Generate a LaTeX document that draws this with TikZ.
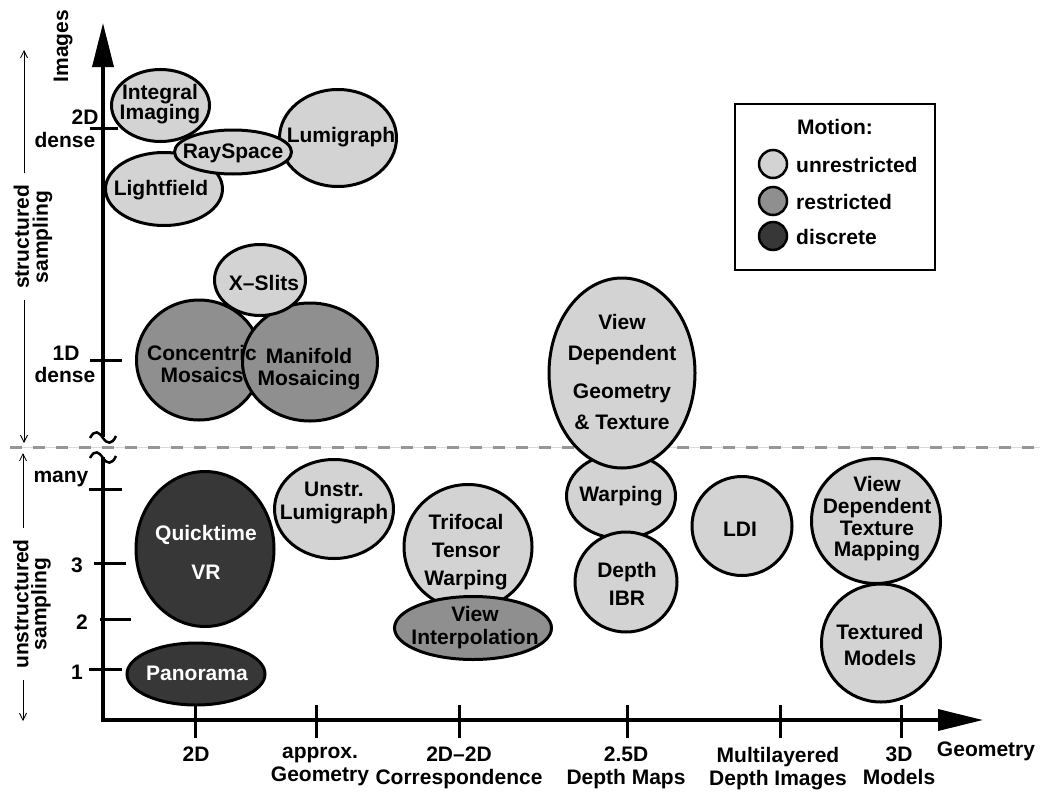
\documentclass[tikz,border=0pt]{standalone}
\usepackage{fontspec}
\setmainfont{Liberation Sans}
\usetikzlibrary{shapes.geometric,arrows.meta}
\definecolor{lightfill}{RGB}{211,211,211}
\definecolor{midfill}{RGB}{143,143,143}
\definecolor{darkfill}{RGB}{55,55,55}
\definecolor{dashgray}{RGB}{150,150,150}
\newcommand{\lblfont}[1]{\fontsize{21}{#1}\selectfont\bfseries}
\begin{document}
\begin{tikzpicture}[x=1pt,y=-1pt,
  blob/.style={ellipse, draw=black, line width=3pt, inner sep=0pt, fill=#1},
  txt/.style={inner sep=0pt, align=center, font=\lblfont{#1}},
  txt/.default=24,
  axisline/.style={line width=3.5pt},
  tick/.style={line width=3pt},
  breakmark/.style={line width=2.5pt},
  sidearrow/.style={line width=0.8pt, -{Straight Barb[length=7pt,width=7pt]}},
  swatch/.style={circle, draw=black, line width=2.5pt, minimum size=28pt, inner sep=0pt, fill=#1}
]
\useasboundingbox (0,0) rectangle (1040,792);

% separation between structured and unstructured sampling
\coordinate (sepL) at (10,447);
\coordinate (sepR) at (1040,447);
\draw[dashgray!35, line width=1pt] (sepL) -- (sepR);
\draw[dashgray, line width=3pt, dash pattern=on 12pt off 11pt] (sepL) -- (sepR);

% axes
\coordinate (ybreakA) at (103,437);
\coordinate (ytop) at (103,23);
\coordinate (ybreakB) at (103,457);
\coordinate (origin) at (103,720);
\coordinate (xend) at (983,720);
\draw[axisline, -{Triangle[length=44pt,width=21pt]}] (ybreakA) -- (ytop);
\draw[axisline, -{Triangle[length=45pt,width=21pt]}] (ybreakB) -- (origin) -- (xend);

% axis break marks
\draw[breakmark] (90,438) .. controls (95,429) and (99,432) .. (103,438) .. controls (107,444) and (112,445) .. (116,436);
\draw[breakmark] (90,458) .. controls (95,449) and (99,452) .. (103,458) .. controls (107,464) and (112,465) .. (116,456);

% ticks on the image axis
\draw[tick] (90,128) -- (118,128);
\draw[tick] (90,360) -- (122,360);
\draw[tick] (89,489) -- (122,489);
\draw[tick] (94,563) -- (126,563);
\draw[tick] (100,619) -- (131,619);
\draw[tick] (89,669) -- (122,669);

% ticks on the geometry axis
\foreach \tx in {195,316,459,627,780,901}
  \draw[tick] (\tx,705) -- (\tx,738);

% image axis labels
\node[txt, rotate=90] (imglabel) at (63,46) {Images};
\node[txt] (l2d) at (85,117) {2D};
\node[txt] (l2dd) at (65,140) {dense};
\node[txt] (l1d) at (66,353) {1D};
\node[txt] (l1dd) at (65,375) {dense};
\node[txt] (lmany) at (61,479) {many};
\node[txt] (l3) at (77,565) {3};
\node[txt] (l2) at (82,622) {2};
\node[txt] (l1) at (77,672) {1};

% sampling ranges
\node[txt=19, rotate=90] (structured) at (33,237) {structured\\sampling};
\node[txt=18, rotate=90] (unstructured) at (32,604) {unstructured\\sampling};
\coordinate (sA) at (24,173); \coordinate (sAt) at (24,50);
\coordinate (sB) at (24,300); \coordinate (sBt) at (24,443);
\coordinate (uA) at (23,528); \coordinate (uAt) at (23,453);
\coordinate (uB) at (23,680); \coordinate (uBt) at (23,721);
\draw[sidearrow] (sA) -- (sAt);
\draw[sidearrow] (sB) -- (sBt);
\draw[sidearrow] (uA) -- (uAt);
\draw[sidearrow] (uB) -- (uBt);

% geometry axis labels
\node[txt=23, anchor=north] (g2d) at (196,747) {2D};
\node[txt=23, anchor=north] (gapprox) at (320,747) {approx.\\Geometry};
\node[txt=23, anchor=north] (gcorr) at (459,747) {2D--2D\\Correspondence};
\node[txt=23, anchor=north] (gdepth) at (626,747) {2.5D\\Depth Maps};
\node[txt=23, anchor=north] (gldi) at (778,747) {Multilayered\\Depth Images};
\node[txt=23, anchor=north] (g3d) at (899,747) {3D\\Models};
\node[txt, anchor=north] (geomlabel) at (986,742) {Geometry};

% rendering techniques
\node[blob=lightfill, minimum width=98pt, minimum height=72pt] (integral) at (160.5,105.5) {};
\node[blob=lightfill, minimum width=117pt, minimum height=73pt] (lightfield) at (164,189) {};
\node[blob=lightfill, minimum width=117pt, minimum height=97pt] (lumigraph) at (338,138) {};
\node[blob=lightfill, minimum width=117pt, minimum height=44pt] (rayspace) at (233,152) {};
\node[blob=midfill, minimum width=125pt, minimum height=120pt] (concentric) at (199,360) {};
\node[blob=midfill, minimum width=135pt, minimum height=118pt] (manifold) at (310,362) {};
\node[blob=lightfill, minimum width=91pt, minimum height=71pt] (xslits) at (260,280) {};
\node[blob=darkfill, minimum width=138pt, minimum height=155pt] (quicktime) at (205,549) {};
\node[blob=darkfill, minimum width=138pt, minimum height=62pt] (panorama) at (196,674) {};
\node[blob=lightfill, minimum width=119pt, minimum height=99pt] (unstr) at (334,509) {};
\node[blob=lightfill, minimum width=128pt, minimum height=125pt] (trifocal) at (468,547) {};
\node[blob=midfill, minimum width=157pt, minimum height=63pt] (viewinterp) at (473,628) {};
\node[blob=lightfill, minimum width=109pt, minimum height=85pt] (warping) at (621,496) {};
\node[blob=lightfill, minimum width=146pt, minimum height=190pt] (vdg) at (622,373) {};
\node[blob=lightfill, minimum width=102pt, minimum height=100pt] (depthibr) at (626,582) {};
\node[blob=lightfill, minimum width=100pt, minimum height=99pt] (ldi) at (742,526) {};
\node[blob=lightfill, minimum width=129pt, minimum height=125pt] (vdtm) at (876,521) {};
\node[blob=lightfill, minimum width=119pt, minimum height=118pt] (textured) at (881,643) {};

\node[txt=18] at (160,104) {Integral\\Imaging};
\node[txt] at (161,190) {Lightfield};
\node[txt] at (341,137) {Lumigraph};
\node[txt] at (233,153) {RaySpace};
\node[txt=22] at (202,364) {Concentric\\Mosaics};
\node[txt=22] at (309,369) {Manifold\\Mosaicing};
\node[txt] at (264,283) {X--Slits};
\node[txt=39, text=white] at (206,552) {Quicktime\\VR};
\node[txt, text=white] at (197,673) {Panorama};
\node[txt=23] at (334,503) {Unstr.\\Lumigraph};
\node[txt=28] at (466,552) {Trifocal\\Tensor\\Warping};
\node[txt=23] at (475,628) {View\\Interpolation};
\node[txt=31] at (622,372) {View\\Dependent\\[7pt]Geometry\\\& Texture};
\node[txt] at (621,496) {Warping};
\node[txt=28] at (627,584) {Depth\\IBR};
\node[txt] at (740,529) {LDI};
\node[txt=21.7] at (877,519) {View\\Dependent\\Texture\\Mapping};
\node[txt=26] at (880,645) {Textured\\Models};

% legend
\node[draw=black, line width=1.2pt, minimum width=200pt, minimum height=166pt, inner sep=0pt] (legend) at (835,187) {};
\node[txt] (motion) at (835,127) {Motion:};
\node[swatch=lightfill] (swA) at (773,164) {};
\node[swatch=midfill] (swB) at (773,201) {};
\node[swatch=darkfill] (swC) at (773,236) {};
\node[txt, anchor=west] (unres) at (796,165) {unrestricted};
\node[txt, anchor=west] (res) at (796,202) {restricted};
\node[txt, anchor=west] (disc) at (796,237) {discrete};
\end{tikzpicture}
\end{document}
